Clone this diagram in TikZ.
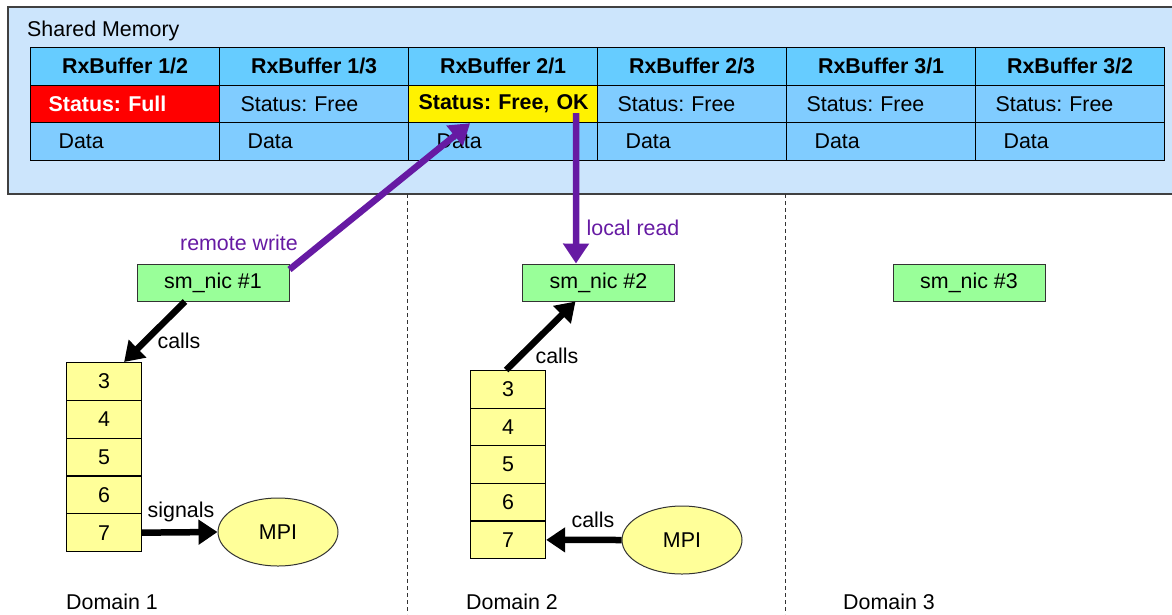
\documentclass[tikz,border=0pt]{standalone}
\usepackage{fontspec}
\setmainfont{Liberation Sans}
\usetikzlibrary{arrows.meta,shapes.geometric}
\definecolor{shmbg}{RGB}{204,229,252}
\definecolor{hdr}{RGB}{102,204,255}
\definecolor{rowc}{RGB}{128,204,255}
\definecolor{nicg}{RGB}{153,255,153}
\definecolor{stk}{RGB}{255,255,153}
\definecolor{purp}{RGB}{102,26,163}
\frenchspacing
\begin{document}
\begin{tikzpicture}[x=1pt,y=-1pt,
  every node/.style={font=\fontsize{21.4}{25}\selectfont},
  cell/.style={draw=black,line width=1.2pt,minimum width=189pt,minimum height=37.5pt,inner sep=0pt,anchor=north west},
  hdrcell/.style={cell,fill=hdr,font=\fontsize{21.4}{25}\selectfont\bfseries},
  statcell/.style={cell,fill=rowc,text width=189pt,align=left},
  datacell/.style={cell,fill=rowc,text width=189pt,align=left},
  nic/.style={draw=black!80,line width=1pt,fill=nicg,minimum width=152pt,minimum height=37pt,inner sep=0pt},
  stackcell/.style={draw=black,line width=1.2pt,fill=stk,minimum width=75pt,minimum height=37.7pt,inner sep=0pt,anchor=north west},
  mpi/.style={ellipse,draw=black!80,line width=1pt,fill=stk,minimum width=120pt,minimum height=68pt,inner sep=0pt},
  parrow/.style={draw=purp,line width=6.5pt,-{Triangle[length=20pt,width=25pt]}},
  barrow/.style={draw=black,line width=6.5pt,-{Triangle[length=19pt,width=24pt]}},
  plabel/.style={text=purp},
  sep/.style={draw=black!80,line width=0.9pt,dash pattern=on 4pt off 3pt}
]
\useasboundingbox (0,0) rectangle (1172,614);
% shared memory box
\draw[draw=black!75,line width=1.2pt,fill=shmbg] (8,7) rectangle (1174,194);
\node[anchor=west,inner sep=0pt] (shmt) at (27,31) {Shared Memory};
% header row
\node[hdrcell] (h1) at (30,47) {RxBuffer 1/2};
\node[hdrcell] (h2) at (219,47) {RxBuffer 1/3};
\node[hdrcell] (h3) at (408,47) {RxBuffer 2/1};
\node[hdrcell] (h4) at (597,47) {RxBuffer 2/3};
\node[hdrcell] (h5) at (786,47) {RxBuffer 3/1};
\node[hdrcell] (h6) at (975,47) {RxBuffer 3/2};
% status row
\node[statcell,fill=red,text=white,font=\fontsize{21.4}{25}\selectfont\bfseries] (s1) at (30,84.5) {\hspace*{18pt}Status: Full};
\node[statcell] (s2) at (219,84.5) {\hspace*{21pt}Status: Free};
\node[statcell,fill=yellow,font=\fontsize{21.4}{25}\selectfont\bfseries] (s3) at (408,84.5) {\hspace*{10pt}Status: Free, OK};
\node[statcell] (s4) at (597,84.5) {\hspace*{20pt}Status: Free};
\node[statcell] (s5) at (786,84.5) {\hspace*{20pt}Status: Free};
\node[statcell] (s6) at (975,84.5) {\hspace*{20pt}Status: Free};
% data row
\node[datacell] (d1) at (30,122) {\hspace*{28pt}Data};
\node[datacell] (d2) at (219,122) {\hspace*{28pt}Data};
\node[datacell] (d3) at (408,122) {\hspace*{28pt}Data};
\node[datacell] (d4) at (597,122) {\hspace*{28pt}Data};
\node[datacell] (d5) at (786,122) {\hspace*{28pt}Data};
\node[datacell] (d6) at (975,122) {\hspace*{28pt}Data};
% domain separators
\draw[sep] (407,194) -- (407,614);
\draw[sep] (785,194) -- (785,614);
% nics
\node[nic] (n1) at (213,282.5) {sm\_nic \#1};
\node[nic] (n2) at (598.5,282.5) {sm\_nic \#2};
\node[nic] (n3) at (969,282.5) {sm\_nic \#3};
% stack 1
\node[stackcell] (a3) at (66,362) {3};
\node[stackcell] (a4) at (66,399.8) {4};
\node[stackcell] (a5) at (66,437.6) {5};
\node[stackcell] (a6) at (66,475.4) {6};
\node[stackcell] (a7) at (66,513.2) {7};
% stack 2
\node[stackcell] (b3) at (470,370) {3};
\node[stackcell] (b4) at (470,407.6) {4};
\node[stackcell] (b5) at (470,445.2) {5};
\node[stackcell] (b6) at (470,482.8) {6};
\node[stackcell] (b7) at (470,520.4) {7};
% MPI
\node[mpi] (m1) at (278,532) {MPI};
\node[mpi] (m2) at (682,540) {MPI};
% arrows
\draw[parrow] ([yshift=-6pt]n1.north east) -- ([xshift=-33pt]s3.south);
\draw[parrow] ([xshift=73pt,yshift=10pt]s3.south) -- ([xshift=-22.5pt]n2.north);
\draw[barrow] ([xshift=-28pt]n1.south) -- ([xshift=20pt]a3.north);
\draw[barrow] ([xshift=-2pt]b3.north) -- ([xshift=-23pt]n2.south);
\draw[barrow] (a7.east) -- (m1.west);
\draw[barrow] (m2.west) -- (b7.east);
% labels
\node[plabel] (lrw) at (239,243) {remote write};
\node[plabel] (llr) at (633,228) {local read};
\node (lc1) at (179,341) {calls};
\node (lc2) at (557,356) {calls};
\node (lc3) at (593,520) {calls};
\node (lsig) at (181,512) {signals};
\node[anchor=west,inner sep=0pt] (dom1) at (66,602) {Domain 1};
\node[anchor=west,inner sep=0pt] (dom2) at (466,602) {Domain 2};
\node[anchor=west,inner sep=0pt] (dom3) at (843,602) {Domain 3};
\end{tikzpicture}
\end{document}
